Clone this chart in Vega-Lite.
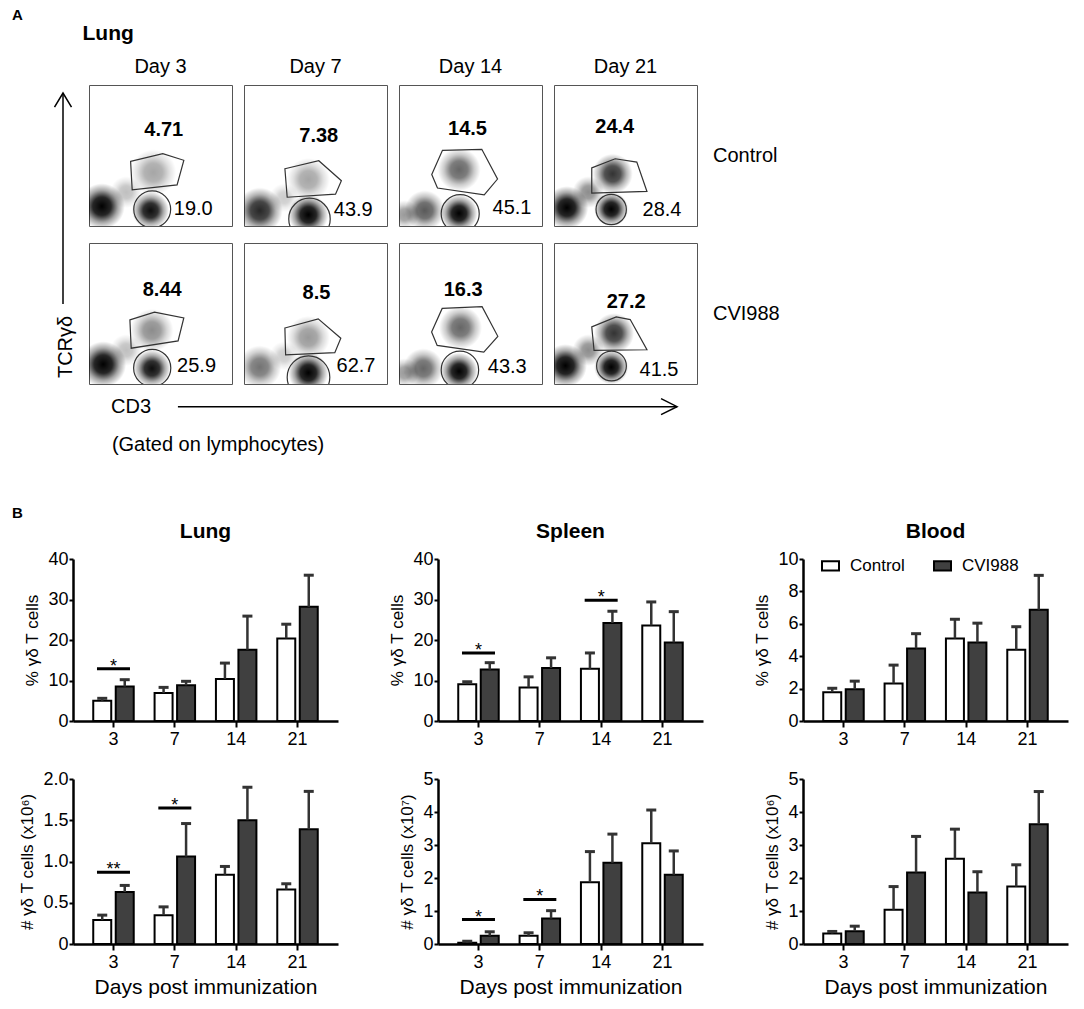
{
"$schema": "https://vega.github.io/schema/vega-lite/v6.json",
"background": "white",
"padding": {"left": 12, "top": 8, "right": 5, "bottom": 2},
"config": {
  "font": "Liberation Sans",
  "view": {"stroke": null},
  "axis": {"labelColor": "#000", "titleColor": "#000", "domainColor": "#000", "tickColor": "#000", "grid": false, "labelFontSize": 18, "titleFontSize": 17, "titleFontWeight": "normal", "domainWidth": 2.5, "tickWidth": 2, "labelOverlap": false},
  "axisX": {"tickSize": 6, "labelPadding": 3, "labelAngle": 0, "titleFontSize": 21, "titlePadding": 5},
  "axisY": {"tickSize": 4, "labelPadding": 1, "titlePadding": 6, "labelOverlap": false},
  "title": {"color": "#000"},
  "header": {"labelColor": "#000", "labelFontSize": 20},
  "text": {"color": "#000"}
},
"datasets": {
  "flow": [
    {"cond":"Control","day":"Day 3","kind":"blob","x":9,"y":14,"r":16,"dens":1.0},
    {"cond":"Control","day":"Day 3","kind":"blob","x":43,"y":11,"r":13,"dens":0.95},
    {"cond":"Control","day":"Day 3","kind":"blob","x":45,"y":38,"r":16,"dens":0.35},
    {"cond":"Control","day":"Day 3","kind":"blob","x":26,"y":24,"r":11,"dens":0.25},
    {"cond":"Control","day":"Day 3","kind":"poly","i":0,"x":29.1,"y":45.8},
    {"cond":"Control","day":"Day 3","kind":"poly","i":1,"x":51.6,"y":51.3},
    {"cond":"Control","day":"Day 3","kind":"poly","i":2,"x":66.3,"y":46.6},
    {"cond":"Control","day":"Day 3","kind":"poly","i":3,"x":61.6,"y":29.2},
    {"cond":"Control","day":"Day 3","kind":"poly","i":4,"x":30.2,"y":25.7},
    {"cond":"Control","day":"Day 3","kind":"circ","x":44.2,"y":11.8,"r":12.9},
    {"cond":"Control","day":"Day 3","kind":"pct","x":52.3,"y":68.4,"label":"4.71"},
    {"cond":"Control","day":"Day 3","kind":"num","x":59.3,"y":12.1,"label":"19.0"},

    {"cond":"Control","day":"Day 7","kind":"blob","x":11,"y":11,"r":16,"dens":0.85},
    {"cond":"Control","day":"Day 7","kind":"blob","x":45,"y":8,"r":14,"dens":1.0},
    {"cond":"Control","day":"Day 7","kind":"blob","x":45,"y":33,"r":15,"dens":0.35},
    {"cond":"Control","day":"Day 7","kind":"blob","x":28,"y":20,"r":10,"dens":0.2},
    {"cond":"Control","day":"Day 7","kind":"poly","i":0,"x":28.6,"y":40.6},
    {"cond":"Control","day":"Day 7","kind":"poly","i":1,"x":52.3,"y":46.3},
    {"cond":"Control","day":"Day 7","kind":"poly","i":2,"x":68.1,"y":32.1},
    {"cond":"Control","day":"Day 7","kind":"poly","i":3,"x":64.0,"y":22.6},
    {"cond":"Control","day":"Day 7","kind":"poly","i":4,"x":30.2,"y":20.4},
    {"cond":"Control","day":"Day 7","kind":"circ","x":45.8,"y":5.0,"r":14.5},
    {"cond":"Control","day":"Day 7","kind":"pct","x":52.3,"y":63.7,"label":"7.38"},
    {"cond":"Control","day":"Day 7","kind":"num","x":62.8,"y":11.4,"label":"43.9"},

    {"cond":"Control","day":"Day 14","kind":"blob","x":18,"y":11,"r":14,"dens":0.65},
    {"cond":"Control","day":"Day 14","kind":"blob","x":42,"y":9,"r":13,"dens":1.0},
    {"cond":"Control","day":"Day 14","kind":"blob","x":42,"y":40,"r":15,"dens":0.6},
    {"cond":"Control","day":"Day 14","kind":"blob","x":4,"y":8,"r":10,"dens":0.4},
    {"cond":"Control","day":"Day 14","kind":"poly","i":0,"x":30.4,"y":53.7},
    {"cond":"Control","day":"Day 14","kind":"poly","i":1,"x":57.9,"y":54.4},
    {"cond":"Control","day":"Day 14","kind":"poly","i":2,"x":68.9,"y":33.3},
    {"cond":"Control","day":"Day 14","kind":"poly","i":3,"x":59.6,"y":22.1},
    {"cond":"Control","day":"Day 14","kind":"poly","i":4,"x":26.9,"y":26.9},
    {"cond":"Control","day":"Day 14","kind":"poly","i":5,"x":22.9,"y":36.5},
    {"cond":"Control","day":"Day 14","kind":"circ","x":42.8,"y":8.7,"r":13.3},
    {"cond":"Control","day":"Day 14","kind":"pct","x":47.9,"y":68.8,"label":"14.5"},
    {"cond":"Control","day":"Day 14","kind":"num","x":65.4,"y":12.5,"label":"45.1"},

    {"cond":"Control","day":"Day 21","kind":"blob","x":9,"y":13,"r":15,"dens":1.0},
    {"cond":"Control","day":"Day 21","kind":"blob","x":40,"y":12,"r":12,"dens":1.0},
    {"cond":"Control","day":"Day 21","kind":"blob","x":41,"y":37,"r":14,"dens":0.8},
    {"cond":"Control","day":"Day 21","kind":"blob","x":24,"y":24,"r":11,"dens":0.45},
    {"cond":"Control","day":"Day 21","kind":"poly","i":0,"x":26.4,"y":41.2},
    {"cond":"Control","day":"Day 21","kind":"poly","i":1,"x":42.8,"y":47.7},
    {"cond":"Control","day":"Day 21","kind":"poly","i":2,"x":57.9,"y":45.3},
    {"cond":"Control","day":"Day 21","kind":"poly","i":3,"x":65.0,"y":24.5},
    {"cond":"Control","day":"Day 21","kind":"poly","i":4,"x":26.4,"y":23.3},
    {"cond":"Control","day":"Day 21","kind":"circ","x":40.0,"y":11.7,"r":10.6},
    {"cond":"Control","day":"Day 21","kind":"pct","x":42.5,"y":70.1,"label":"24.4"},
    {"cond":"Control","day":"Day 21","kind":"num","x":61.9,"y":11.3,"label":"28.4"},

    {"cond":"CVI988","day":"Day 3","kind":"blob","x":10,"y":14,"r":16,"dens":1.0},
    {"cond":"CVI988","day":"Day 3","kind":"blob","x":44,"y":11,"r":13,"dens":0.95},
    {"cond":"CVI988","day":"Day 3","kind":"blob","x":44,"y":38,"r":15,"dens":0.45},
    {"cond":"CVI988","day":"Day 3","kind":"blob","x":26,"y":24,"r":11,"dens":0.25},
    {"cond":"CVI988","day":"Day 3","kind":"poly","i":0,"x":28.6,"y":45.5},
    {"cond":"CVI988","day":"Day 3","kind":"poly","i":1,"x":45.8,"y":51.0},
    {"cond":"CVI988","day":"Day 3","kind":"poly","i":2,"x":66.3,"y":46.9},
    {"cond":"CVI988","day":"Day 3","kind":"poly","i":3,"x":62.3,"y":30.6},
    {"cond":"CVI988","day":"Day 3","kind":"poly","i":4,"x":29.5,"y":25.4},
    {"cond":"CVI988","day":"Day 3","kind":"circ","x":44.2,"y":11.4,"r":13.0},
    {"cond":"CVI988","day":"Day 3","kind":"pct","x":51.2,"y":66.5,"label":"8.44"},
    {"cond":"CVI988","day":"Day 3","kind":"num","x":61.6,"y":12.7,"label":"25.9"},

    {"cond":"CVI988","day":"Day 7","kind":"blob","x":11,"y":12,"r":15,"dens":0.55},
    {"cond":"CVI988","day":"Day 7","kind":"blob","x":45,"y":8,"r":14,"dens":1.0},
    {"cond":"CVI988","day":"Day 7","kind":"blob","x":45,"y":33,"r":15,"dens":0.4},
    {"cond":"CVI988","day":"Day 7","kind":"blob","x":28,"y":20,"r":10,"dens":0.2},
    {"cond":"CVI988","day":"Day 7","kind":"poly","i":0,"x":28.6,"y":39.7},
    {"cond":"CVI988","day":"Day 7","kind":"poly","i":1,"x":51.9,"y":46.2},
    {"cond":"CVI988","day":"Day 7","kind":"poly","i":2,"x":67.7,"y":32.5},
    {"cond":"CVI988","day":"Day 7","kind":"poly","i":3,"x":63.5,"y":22.2},
    {"cond":"CVI988","day":"Day 7","kind":"poly","i":4,"x":29.1,"y":20.6},
    {"cond":"CVI988","day":"Day 7","kind":"circ","x":45.1,"y":4.8,"r":14.9},
    {"cond":"CVI988","day":"Day 7","kind":"pct","x":50.7,"y":64.6,"label":"8.5"},
    {"cond":"CVI988","day":"Day 7","kind":"num","x":64.7,"y":12.7,"label":"62.7"},

    {"cond":"CVI988","day":"Day 14","kind":"blob","x":17,"y":11,"r":14,"dens":0.6},
    {"cond":"CVI988","day":"Day 14","kind":"blob","x":42,"y":9,"r":13,"dens":1.0},
    {"cond":"CVI988","day":"Day 14","kind":"blob","x":43,"y":40,"r":15,"dens":0.6},
    {"cond":"CVI988","day":"Day 14","kind":"blob","x":4,"y":8,"r":10,"dens":0.4},
    {"cond":"CVI988","day":"Day 14","kind":"poly","i":0,"x":30.2,"y":53.6},
    {"cond":"CVI988","day":"Day 14","kind":"poly","i":1,"x":58.1,"y":54.8},
    {"cond":"CVI988","day":"Day 14","kind":"poly","i":2,"x":69.1,"y":33.8},
    {"cond":"CVI988","day":"Day 14","kind":"poly","i":3,"x":59.3,"y":22.6},
    {"cond":"CVI988","day":"Day 14","kind":"poly","i":4,"x":26.7,"y":27.4},
    {"cond":"CVI988","day":"Day 14","kind":"poly","i":5,"x":22.8,"y":36.9},
    {"cond":"CVI988","day":"Day 14","kind":"circ","x":42.6,"y":10.0,"r":13.1},
    {"cond":"CVI988","day":"Day 14","kind":"pct","x":44.9,"y":66.7,"label":"16.3"},
    {"cond":"CVI988","day":"Day 14","kind":"num","x":62.1,"y":11.9,"label":"43.3"},

    {"cond":"CVI988","day":"Day 21","kind":"blob","x":8,"y":13,"r":15,"dens":1.0},
    {"cond":"CVI988","day":"Day 21","kind":"blob","x":40,"y":12,"r":12,"dens":1.0},
    {"cond":"CVI988","day":"Day 21","kind":"blob","x":42,"y":36,"r":14,"dens":0.8},
    {"cond":"CVI988","day":"Day 21","kind":"blob","x":24,"y":24,"r":11,"dens":0.45},
    {"cond":"CVI988","day":"Day 21","kind":"poly","i":0,"x":26.4,"y":40.5},
    {"cond":"CVI988","day":"Day 21","kind":"poly","i":1,"x":43.5,"y":47.6},
    {"cond":"CVI988","day":"Day 21","kind":"poly","i":2,"x":53.3,"y":45.7},
    {"cond":"CVI988","day":"Day 21","kind":"poly","i":3,"x":65.0,"y":24.3},
    {"cond":"CVI988","day":"Day 21","kind":"poly","i":4,"x":28.0,"y":23.8},
    {"cond":"CVI988","day":"Day 21","kind":"circ","x":40.2,"y":12.8,"r":10.4},
    {"cond":"CVI988","day":"Day 21","kind":"pct","x":50.5,"y":58.3,"label":"27.2"},
    {"cond":"CVI988","day":"Day 21","kind":"num","x":59.8,"y":10.0,"label":"41.5"}
  ],
  "bars": [
    {"o":"Lung","m":"pct","day":"3","g":"Control","v":5.0,"e":5.6},
    {"o":"Lung","m":"pct","day":"3","g":"CVI988","v":8.5,"e":10.2},
    {"o":"Lung","m":"pct","day":"7","g":"Control","v":6.9,"e":8.3},
    {"o":"Lung","m":"pct","day":"7","g":"CVI988","v":8.8,"e":9.8},
    {"o":"Lung","m":"pct","day":"14","g":"Control","v":10.4,"e":14.3},
    {"o":"Lung","m":"pct","day":"14","g":"CVI988","v":17.6,"e":25.9},
    {"o":"Lung","m":"pct","day":"21","g":"Control","v":20.4,"e":23.9},
    {"o":"Lung","m":"pct","day":"21","g":"CVI988","v":28.2,"e":36.0},
    {"o":"Lung","m":"num","day":"3","g":"Control","v":0.29,"e":0.35},
    {"o":"Lung","m":"num","day":"3","g":"CVI988","v":0.63,"e":0.71},
    {"o":"Lung","m":"num","day":"7","g":"Control","v":0.35,"e":0.45},
    {"o":"Lung","m":"num","day":"7","g":"CVI988","v":1.06,"e":1.46},
    {"o":"Lung","m":"num","day":"14","g":"Control","v":0.84,"e":0.94},
    {"o":"Lung","m":"num","day":"14","g":"CVI988","v":1.50,"e":1.90},
    {"o":"Lung","m":"num","day":"21","g":"Control","v":0.66,"e":0.73},
    {"o":"Lung","m":"num","day":"21","g":"CVI988","v":1.39,"e":1.85},
    {"o":"Spleen","m":"pct","day":"3","g":"Control","v":9.1,"e":9.7},
    {"o":"Spleen","m":"pct","day":"3","g":"CVI988","v":12.7,"e":14.4},
    {"o":"Spleen","m":"pct","day":"7","g":"Control","v":8.3,"e":10.9},
    {"o":"Spleen","m":"pct","day":"7","g":"CVI988","v":13.1,"e":15.6},
    {"o":"Spleen","m":"pct","day":"14","g":"Control","v":12.9,"e":16.8},
    {"o":"Spleen","m":"pct","day":"14","g":"CVI988","v":24.2,"e":27.1},
    {"o":"Spleen","m":"pct","day":"21","g":"Control","v":23.6,"e":29.4},
    {"o":"Spleen","m":"pct","day":"21","g":"CVI988","v":19.4,"e":27.0},
    {"o":"Spleen","m":"num","day":"3","g":"Control","v":0.04,"e":0.08},
    {"o":"Spleen","m":"num","day":"3","g":"CVI988","v":0.25,"e":0.37},
    {"o":"Spleen","m":"num","day":"7","g":"Control","v":0.25,"e":0.34},
    {"o":"Spleen","m":"num","day":"7","g":"CVI988","v":0.77,"e":1.01},
    {"o":"Spleen","m":"num","day":"14","g":"Control","v":1.87,"e":2.80},
    {"o":"Spleen","m":"num","day":"14","g":"CVI988","v":2.46,"e":3.33},
    {"o":"Spleen","m":"num","day":"21","g":"Control","v":3.05,"e":4.06},
    {"o":"Spleen","m":"num","day":"21","g":"CVI988","v":2.10,"e":2.82},
    {"o":"Blood","m":"pct","day":"3","g":"Control","v":1.78,"e":2.02},
    {"o":"Blood","m":"pct","day":"3","g":"CVI988","v":1.96,"e":2.46},
    {"o":"Blood","m":"pct","day":"7","g":"Control","v":2.32,"e":3.45},
    {"o":"Blood","m":"pct","day":"7","g":"CVI988","v":4.48,"e":5.39},
    {"o":"Blood","m":"pct","day":"14","g":"Control","v":5.09,"e":6.28},
    {"o":"Blood","m":"pct","day":"14","g":"CVI988","v":4.85,"e":6.04},
    {"o":"Blood","m":"pct","day":"21","g":"Control","v":4.40,"e":5.82},
    {"o":"Blood","m":"pct","day":"21","g":"CVI988","v":6.87,"e":8.99},
    {"o":"Blood","m":"num","day":"3","g":"Control","v":0.32,"e":0.38},
    {"o":"Blood","m":"num","day":"3","g":"CVI988","v":0.39,"e":0.54},
    {"o":"Blood","m":"num","day":"7","g":"Control","v":1.04,"e":1.74},
    {"o":"Blood","m":"num","day":"7","g":"CVI988","v":2.17,"e":3.26},
    {"o":"Blood","m":"num","day":"14","g":"Control","v":2.58,"e":3.48},
    {"o":"Blood","m":"num","day":"14","g":"CVI988","v":1.56,"e":2.19},
    {"o":"Blood","m":"num","day":"21","g":"Control","v":1.74,"e":2.40},
    {"o":"Blood","m":"num","day":"21","g":"CVI988","v":3.63,"e":4.62}
  ],
  "sig": [
    {"o":"Lung","m":"pct","day":"3","y":12.9,"lab":"*"},
    {"o":"Lung","m":"num","day":"3","y":0.87,"lab":"**"},
    {"o":"Lung","m":"num","day":"7","y":1.65,"lab":"*"},
    {"o":"Spleen","m":"pct","day":"3","y":16.8,"lab":"*"},
    {"o":"Spleen","m":"pct","day":"14","y":29.8,"lab":"*"},
    {"o":"Spleen","m":"num","day":"3","y":0.74,"lab":"*"},
    {"o":"Spleen","m":"num","day":"7","y":1.35,"lab":"*"}
  ]
},
"resolve": {"scale": {"fill": "independent"}, "legend": {"fill": "independent"}},
"spacing": 44,
"vconcat": [
  {
    "title": {"text": "A", "anchor": "start", "fontSize": 15, "fontWeight": "bold", "offset": 0},
    "spacing": 7,
    "vconcat": [
      {
        "spacing": 2,
        "hconcat": [
          {
            "width": 68, "height": 297,
            "data": {"values": [{"x": 75, "ytop": 97.3, "ybot": 26.3, "xt": 79.4, "ytext": 11.8, "label": "TCRγδ"}]},
            "layer": [
              {"mark": {"type": "rule", "color": "#000", "strokeWidth": 1.5},
               "encoding": {"x": {"field": "x", "type": "quantitative", "scale": {"domain": [0, 100], "nice": false}, "axis": null},
                            "y": {"field": "ytop", "type": "quantitative", "scale": {"domain": [0, 100], "nice": false}, "axis": null},
                            "y2": {"field": "ybot"}}},
              {"mark": {"type": "point", "shape": "M-1,1.65L0,0L1,1.65", "filled": false, "stroke": "#000", "strokeWidth": 1.5, "size": 289, "opacity": 1},
               "encoding": {"x": {"field": "x", "type": "quantitative"}, "y": {"field": "ytop", "type": "quantitative"}}},
              {"mark": {"type": "text", "angle": 270, "fontSize": 20, "align": "center", "baseline": "middle"},
               "encoding": {"x": {"field": "xt", "type": "quantitative"}, "y": {"field": "ytext", "type": "quantitative"}, "text": {"field": "label"}}}
            ]
          },
          {
            "title": {"text": "Lung", "anchor": "start", "fontSize": 21, "fontWeight": "bold", "dx": -6, "offset": 13},
            "data": {"name": "flow"},
            "spacing": {"row": 15, "column": 10},
            "facet": {
              "row": {"field": "cond", "type": "nominal", "sort": ["Control", "CVI988"], "title": null,
                      "header": {"labelOrient": "right", "labelAngle": 0, "labelAlign": "right", "labelPadding": 15, "labelFontSize": 20}},
              "column": {"field": "day", "type": "nominal", "sort": ["Day 3", "Day 7", "Day 14", "Day 21"], "title": null,
                         "header": {"labelFontSize": 20, "labelPadding": 7}}
            },
            "spec": {
              "width": 143, "height": 141,
              "view": {"stroke": "#555", "strokeWidth": 1},
              "encoding": {
                "x": {"field": "x", "type": "quantitative", "scale": {"domain": [0, 100], "nice": false}, "axis": null},
                "y": {"field": "y", "type": "quantitative", "scale": {"domain": [0, 100], "nice": false}, "axis": null}
              },
              "layer": [
                {"transform": [{"filter": "datum.kind === 'blob'"}],
                 "mark": {"type": "point", "shape": "circle", "filled": true, "strokeWidth": 0, "clip": true,
                          "fill": {"gradient": "radial", "stops": [{"offset": 0, "color": "rgba(0,0,0,1)"}, {"offset": 0.4, "color": "rgba(0,0,0,0.85)"}, {"offset": 0.7, "color": "rgba(0,0,0,0.35)"}, {"offset": 1, "color": "rgba(0,0,0,0)"}]}},
                 "encoding": {
                   "size": {"field": "r", "type": "quantitative", "scale": {"type": "pow", "exponent": 2, "domain": [0, 20], "range": [0, 3272]}, "legend": null},
                   "opacity": {"field": "dens", "type": "quantitative", "scale": {"domain": [0, 1], "range": [0, 1]}, "legend": null}
                 }},
                {"transform": [{"filter": "datum.kind === 'poly'"}],
                 "mark": {"type": "line", "interpolate": "linear-closed", "stroke": "#333", "strokeWidth": 1.2},
                 "encoding": {"order": {"field": "i", "type": "quantitative"}}},
                {"transform": [{"filter": "datum.kind === 'circ'"}],
                 "mark": {"type": "point", "shape": "circle", "filled": false, "stroke": "#333", "strokeWidth": 1.2, "clip": true, "opacity": 1},
                 "encoding": {"size": {"field": "r", "type": "quantitative", "scale": {"type": "pow", "exponent": 2, "domain": [0, 20], "range": [0, 3272]}, "legend": null}}},
                {"transform": [{"filter": "datum.kind === 'pct'"}],
                 "mark": {"type": "text", "fontSize": 20, "fontWeight": "bold", "align": "center", "baseline": "middle"},
                 "encoding": {"text": {"field": "label"}}},
                {"transform": [{"filter": "datum.kind === 'num'"}],
                 "mark": {"type": "text", "fontSize": 20, "align": "left", "baseline": "middle"},
                 "encoding": {"text": {"field": "label"}}}
              ]
            }
          }
        ]
      },
      {
        "width": 680, "height": 70,
        "data": {"values": [{"x1": 24.4, "x2": 97.8, "y": 79, "xl": 17.5, "xg": 30.3, "yg": 24, "l1": "CD3", "l2": "(Gated on lymphocytes)"}]},
        "encoding": {
          "y": {"field": "y", "type": "quantitative", "scale": {"domain": [0, 100], "nice": false}, "axis": null}
        },
        "layer": [
          {"mark": {"type": "rule", "color": "#000", "strokeWidth": 1.5},
           "encoding": {"x": {"field": "x1", "type": "quantitative", "scale": {"domain": [0, 100], "nice": false}, "axis": null}, "x2": {"field": "x2"}}},
          {"mark": {"type": "point", "shape": "M-2,-1L0,0L-2,1", "filled": false, "stroke": "#000", "strokeWidth": 1.5, "size": 256, "opacity": 1},
           "encoding": {"x": {"field": "x2", "type": "quantitative"}}},
          {"mark": {"type": "text", "fontSize": 20, "align": "center", "baseline": "middle"},
           "encoding": {"x": {"field": "xl", "type": "quantitative"}, "text": {"field": "l1"}}},
          {"mark": {"type": "text", "fontSize": 20, "align": "center", "baseline": "middle"},
           "encoding": {"x": {"field": "xg", "type": "quantitative"}, "y": {"field": "yg", "type": "quantitative"}, "text": {"field": "l2"}}}
        ]
      }
    ]
  },
  {
    "title": {"text": "B", "anchor": "start", "fontSize": 15, "fontWeight": "bold", "offset": 0},
    "resolve": {"scale": {"fill": "independent"}, "legend": {"fill": "independent"}},
    "spacing": 5,
    "hconcat": [
      {
        "width": 1, "height": 1,
        "data": {"values": [{"t": ""}]},
        "mark": {"type": "text"},
        "encoding": {"text": {"field": "t"}}
      },
      {
        "spacing": 50,
        "resolve": {"scale": {"fill": "independent"}, "legend": {"fill": "independent"}},
        "hconcat": [
          {
            "spacing": 22,
            "resolve": {"scale": {"fill": "independent"}, "legend": {"fill": "independent"}},
            "vconcat": [
              {
                "width": 265, "height": 162,
                "title": {"text": "Lung", "fontSize": 21, "fontWeight": "bold", "offset": 8},
                "encoding": {"x": {"field": "day", "type": "nominal", "sort": ["3", "7", "14", "21"], "scale": {"paddingInner": 0.34, "paddingOuter": 0.33}, "axis": {"title": null}}},
                "layer": [
                  {"data": {"name": "bars"}, "transform": [{"filter": "datum.o === 'Lung' && datum.m === 'pct'"}],
                   "mark": {"type": "bar", "stroke": "#000", "strokeWidth": 2, "opacity": 1},
                   "encoding": {
                     "xOffset": {"field": "g", "type": "nominal", "sort": ["Control", "CVI988"], "scale": {"paddingInner": 0.2}},
                     "y": {"field": "v", "type": "quantitative", "stack": null, "scale": {"domain": [0, 40], "nice": false}, "axis": {"values": [0, 10, 20, 30, 40], "tickCount": 20, "format": "d", "labelOverlap": false, "title": "% γδ T cells"}},
                     "fill": {"field": "g", "type": "nominal", "scale": {"domain": ["Control", "CVI988"], "range": ["#ffffff", "#404040"]}, "legend": null}}},
                  {"data": {"name": "bars"}, "transform": [{"filter": "datum.o === 'Lung' && datum.m === 'pct'"}],
                   "mark": {"type": "rule", "color": "#333", "strokeWidth": 2.5},
                   "encoding": {"xOffset": {"field": "g", "type": "nominal", "sort": ["Control", "CVI988"]}, "y": {"field": "v", "type": "quantitative"}, "y2": {"field": "e"}}},
                  {"data": {"name": "bars"}, "transform": [{"filter": "datum.o === 'Lung' && datum.m === 'pct'"}],
                   "mark": {"type": "tick", "color": "#333", "thickness": 3, "size": 10, "opacity": 1},
                   "encoding": {"xOffset": {"field": "g", "type": "nominal", "sort": ["Control", "CVI988"]}, "y": {"field": "e", "type": "quantitative"}}},
                  {"data": {"name": "sig"}, "transform": [{"filter": "datum.o === 'Lung' && datum.m === 'pct'"}],
                   "mark": {"type": "tick", "color": "#000", "thickness": 3, "size": 33, "opacity": 1},
                   "encoding": {"y": {"field": "y", "type": "quantitative"}}},
                  {"data": {"name": "sig"}, "transform": [{"filter": "datum.o === 'Lung' && datum.m === 'pct'"}],
                   "mark": {"type": "text", "fontSize": 18, "baseline": "alphabetic", "dy": 3},
                   "encoding": {"y": {"field": "y", "type": "quantitative"}, "text": {"field": "lab"}}}
                ]
              },
              {
                "width": 265, "height": 165,
                "encoding": {"x": {"field": "day", "type": "nominal", "sort": ["3", "7", "14", "21"], "scale": {"paddingInner": 0.34, "paddingOuter": 0.33}, "axis": {"title": "Days post immunization"}}},
                "layer": [
                  {"data": {"name": "bars"}, "transform": [{"filter": "datum.o === 'Lung' && datum.m === 'num'"}],
                   "mark": {"type": "bar", "stroke": "#000", "strokeWidth": 2, "opacity": 1},
                   "encoding": {
                     "xOffset": {"field": "g", "type": "nominal", "sort": ["Control", "CVI988"], "scale": {"paddingInner": 0.2}},
                     "y": {"field": "v", "type": "quantitative", "stack": null, "scale": {"domain": [0, 2], "nice": false}, "axis": {"values": [0, 0.5, 1, 1.5, 2], "tickCount": 20, "labelOverlap": false, "labelExpr": "datum.value === 0 ? '0' : format(datum.value, '.1f')", "title": "# γδ T cells (x10⁶)"}},
                     "fill": {"field": "g", "type": "nominal", "scale": {"domain": ["Control", "CVI988"], "range": ["#ffffff", "#404040"]}, "legend": null}}},
                  {"data": {"name": "bars"}, "transform": [{"filter": "datum.o === 'Lung' && datum.m === 'num'"}],
                   "mark": {"type": "rule", "color": "#333", "strokeWidth": 2.5},
                   "encoding": {"xOffset": {"field": "g", "type": "nominal", "sort": ["Control", "CVI988"]}, "y": {"field": "v", "type": "quantitative"}, "y2": {"field": "e"}}},
                  {"data": {"name": "bars"}, "transform": [{"filter": "datum.o === 'Lung' && datum.m === 'num'"}],
                   "mark": {"type": "tick", "color": "#333", "thickness": 3, "size": 10, "opacity": 1},
                   "encoding": {"xOffset": {"field": "g", "type": "nominal", "sort": ["Control", "CVI988"]}, "y": {"field": "e", "type": "quantitative"}}},
                  {"data": {"name": "sig"}, "transform": [{"filter": "datum.o === 'Lung' && datum.m === 'num'"}],
                   "mark": {"type": "tick", "color": "#000", "thickness": 3, "size": 33, "opacity": 1},
                   "encoding": {"y": {"field": "y", "type": "quantitative"}}},
                  {"data": {"name": "sig"}, "transform": [{"filter": "datum.o === 'Lung' && datum.m === 'num'"}],
                   "mark": {"type": "text", "fontSize": 18, "baseline": "alphabetic", "dy": 3},
                   "encoding": {"y": {"field": "y", "type": "quantitative"}, "text": {"field": "lab"}}}
                ]
              }
            ]
          },
          {
            "spacing": 22,
            "resolve": {"scale": {"fill": "independent"}, "legend": {"fill": "independent"}},
            "vconcat": [
              {
                "width": 265, "height": 162,
                "title": {"text": "Spleen", "fontSize": 21, "fontWeight": "bold", "offset": 8},
                "encoding": {"x": {"field": "day", "type": "nominal", "sort": ["3", "7", "14", "21"], "scale": {"paddingInner": 0.34, "paddingOuter": 0.33}, "axis": {"title": null}}},
                "layer": [
                  {"data": {"name": "bars"}, "transform": [{"filter": "datum.o === 'Spleen' && datum.m === 'pct'"}],
                   "mark": {"type": "bar", "stroke": "#000", "strokeWidth": 2, "opacity": 1},
                   "encoding": {
                     "xOffset": {"field": "g", "type": "nominal", "sort": ["Control", "CVI988"], "scale": {"paddingInner": 0.2}},
                     "y": {"field": "v", "type": "quantitative", "stack": null, "scale": {"domain": [0, 40], "nice": false}, "axis": {"values": [0, 10, 20, 30, 40], "tickCount": 20, "format": "d", "labelOverlap": false, "title": "% γδ T cells"}},
                     "fill": {"field": "g", "type": "nominal", "scale": {"domain": ["Control", "CVI988"], "range": ["#ffffff", "#404040"]}, "legend": null}}},
                  {"data": {"name": "bars"}, "transform": [{"filter": "datum.o === 'Spleen' && datum.m === 'pct'"}],
                   "mark": {"type": "rule", "color": "#333", "strokeWidth": 2.5},
                   "encoding": {"xOffset": {"field": "g", "type": "nominal", "sort": ["Control", "CVI988"]}, "y": {"field": "v", "type": "quantitative"}, "y2": {"field": "e"}}},
                  {"data": {"name": "bars"}, "transform": [{"filter": "datum.o === 'Spleen' && datum.m === 'pct'"}],
                   "mark": {"type": "tick", "color": "#333", "thickness": 3, "size": 10, "opacity": 1},
                   "encoding": {"xOffset": {"field": "g", "type": "nominal", "sort": ["Control", "CVI988"]}, "y": {"field": "e", "type": "quantitative"}}},
                  {"data": {"name": "sig"}, "transform": [{"filter": "datum.o === 'Spleen' && datum.m === 'pct'"}],
                   "mark": {"type": "tick", "color": "#000", "thickness": 3, "size": 33, "opacity": 1},
                   "encoding": {"y": {"field": "y", "type": "quantitative"}}},
                  {"data": {"name": "sig"}, "transform": [{"filter": "datum.o === 'Spleen' && datum.m === 'pct'"}],
                   "mark": {"type": "text", "fontSize": 18, "baseline": "alphabetic", "dy": 3},
                   "encoding": {"y": {"field": "y", "type": "quantitative"}, "text": {"field": "lab"}}}
                ]
              },
              {
                "width": 265, "height": 165,
                "encoding": {"x": {"field": "day", "type": "nominal", "sort": ["3", "7", "14", "21"], "scale": {"paddingInner": 0.34, "paddingOuter": 0.33}, "axis": {"title": "Days post immunization"}}},
                "layer": [
                  {"data": {"name": "bars"}, "transform": [{"filter": "datum.o === 'Spleen' && datum.m === 'num'"}],
                   "mark": {"type": "bar", "stroke": "#000", "strokeWidth": 2, "opacity": 1},
                   "encoding": {
                     "xOffset": {"field": "g", "type": "nominal", "sort": ["Control", "CVI988"], "scale": {"paddingInner": 0.2}},
                     "y": {"field": "v", "type": "quantitative", "stack": null, "scale": {"domain": [0, 5], "nice": false}, "axis": {"values": [0, 1, 2, 3, 4, 5], "tickCount": 20, "format": "d", "labelOverlap": false, "title": "# γδ T cells (x10⁷)"}},
                     "fill": {"field": "g", "type": "nominal", "scale": {"domain": ["Control", "CVI988"], "range": ["#ffffff", "#404040"]}, "legend": null}}},
                  {"data": {"name": "bars"}, "transform": [{"filter": "datum.o === 'Spleen' && datum.m === 'num'"}],
                   "mark": {"type": "rule", "color": "#333", "strokeWidth": 2.5},
                   "encoding": {"xOffset": {"field": "g", "type": "nominal", "sort": ["Control", "CVI988"]}, "y": {"field": "v", "type": "quantitative"}, "y2": {"field": "e"}}},
                  {"data": {"name": "bars"}, "transform": [{"filter": "datum.o === 'Spleen' && datum.m === 'num'"}],
                   "mark": {"type": "tick", "color": "#333", "thickness": 3, "size": 10, "opacity": 1},
                   "encoding": {"xOffset": {"field": "g", "type": "nominal", "sort": ["Control", "CVI988"]}, "y": {"field": "e", "type": "quantitative"}}},
                  {"data": {"name": "sig"}, "transform": [{"filter": "datum.o === 'Spleen' && datum.m === 'num'"}],
                   "mark": {"type": "tick", "color": "#000", "thickness": 3, "size": 33, "opacity": 1},
                   "encoding": {"y": {"field": "y", "type": "quantitative"}}},
                  {"data": {"name": "sig"}, "transform": [{"filter": "datum.o === 'Spleen' && datum.m === 'num'"}],
                   "mark": {"type": "text", "fontSize": 18, "baseline": "alphabetic", "dy": 3},
                   "encoding": {"y": {"field": "y", "type": "quantitative"}, "text": {"field": "lab"}}}
                ]
              }
            ]
          },
          {
            "spacing": 22,
            "resolve": {"scale": {"fill": "independent"}, "legend": {"fill": "independent"}},
            "vconcat": [
              {
                "width": 265, "height": 162,
                "title": {"text": "Blood", "fontSize": 21, "fontWeight": "bold", "offset": 8},
                "encoding": {"x": {"field": "day", "type": "nominal", "sort": ["3", "7", "14", "21"], "scale": {"paddingInner": 0.34, "paddingOuter": 0.33}, "axis": {"title": null}}},
                "layer": [
                  {"data": {"name": "bars"}, "transform": [{"filter": "datum.o === 'Blood' && datum.m === 'pct'"}],
                   "mark": {"type": "bar", "stroke": "#000", "strokeWidth": 2, "opacity": 1},
                   "encoding": {
                     "xOffset": {"field": "g", "type": "nominal", "sort": ["Control", "CVI988"], "scale": {"paddingInner": 0.2}},
                     "y": {"field": "v", "type": "quantitative", "stack": null, "scale": {"domain": [0, 10], "nice": false}, "axis": {"values": [0, 2, 4, 6, 8, 10], "tickCount": 20, "format": "d", "labelOverlap": false, "title": "% γδ T cells"}},
                     "fill": {"field": "g", "type": "nominal", "scale": {"domain": ["Control", "CVI988"], "range": ["#ffffff", "#404040"]},
                              "legend": {"title": null, "orient": "none", "legendX": 18, "legendY": -3, "direction": "horizontal", "symbolType": "M-1,-0.55L1,-0.55L1,0.55L-1,0.55Z", "symbolSize": 289, "symbolStrokeColor": "#000", "symbolStrokeWidth": 2, "labelFontSize": 17, "labelColor": "#000", "labelOffset": 10, "columnPadding": 25}}}},
                  {"data": {"name": "bars"}, "transform": [{"filter": "datum.o === 'Blood' && datum.m === 'pct'"}],
                   "mark": {"type": "rule", "color": "#333", "strokeWidth": 2.5},
                   "encoding": {"xOffset": {"field": "g", "type": "nominal", "sort": ["Control", "CVI988"]}, "y": {"field": "v", "type": "quantitative"}, "y2": {"field": "e"}}},
                  {"data": {"name": "bars"}, "transform": [{"filter": "datum.o === 'Blood' && datum.m === 'pct'"}],
                   "mark": {"type": "tick", "color": "#333", "thickness": 3, "size": 10, "opacity": 1},
                   "encoding": {"xOffset": {"field": "g", "type": "nominal", "sort": ["Control", "CVI988"]}, "y": {"field": "e", "type": "quantitative"}}}
                ]
              },
              {
                "width": 265, "height": 165,
                "encoding": {"x": {"field": "day", "type": "nominal", "sort": ["3", "7", "14", "21"], "scale": {"paddingInner": 0.34, "paddingOuter": 0.33}, "axis": {"title": "Days post immunization"}}},
                "layer": [
                  {"data": {"name": "bars"}, "transform": [{"filter": "datum.o === 'Blood' && datum.m === 'num'"}],
                   "mark": {"type": "bar", "stroke": "#000", "strokeWidth": 2, "opacity": 1},
                   "encoding": {
                     "xOffset": {"field": "g", "type": "nominal", "sort": ["Control", "CVI988"], "scale": {"paddingInner": 0.2}},
                     "y": {"field": "v", "type": "quantitative", "stack": null, "scale": {"domain": [0, 5], "nice": false}, "axis": {"values": [0, 1, 2, 3, 4, 5], "tickCount": 20, "format": "d", "labelOverlap": false, "title": "# γδ T cells (x10⁶)"}},
                     "fill": {"field": "g", "type": "nominal", "scale": {"domain": ["Control", "CVI988"], "range": ["#ffffff", "#404040"]}, "legend": null}}},
                  {"data": {"name": "bars"}, "transform": [{"filter": "datum.o === 'Blood' && datum.m === 'num'"}],
                   "mark": {"type": "rule", "color": "#333", "strokeWidth": 2.5},
                   "encoding": {"xOffset": {"field": "g", "type": "nominal", "sort": ["Control", "CVI988"]}, "y": {"field": "v", "type": "quantitative"}, "y2": {"field": "e"}}},
                  {"data": {"name": "bars"}, "transform": [{"filter": "datum.o === 'Blood' && datum.m === 'num'"}],
                   "mark": {"type": "tick", "color": "#333", "thickness": 3, "size": 10, "opacity": 1},
                   "encoding": {"xOffset": {"field": "g", "type": "nominal", "sort": ["Control", "CVI988"]}, "y": {"field": "e", "type": "quantitative"}}}
                ]
              }
            ]
          }
        ]
      }
    ]
  }
]
}
